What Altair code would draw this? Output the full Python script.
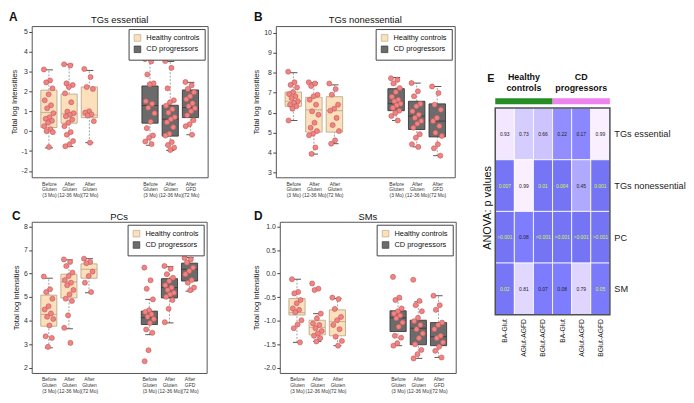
import json
import altair as alt
import pandas as pd

# ---------------- data ----------------
POS = [1, 2, 3, 6, 7, 8]
GROUPS = ["Healthy controls"] * 3 + ["CD progressors"] * 3
COHORTS = ["Healthy controls", "CD progressors"]
X_LABELS = [["Before", "Gluten", "(3 Mo)"], ["After", "Gluten", "(12-36 Mo)"], ["After", "Gluten", "(72 Mo)"],
            ["Before", "Gluten", "(3 Mo)"], ["After", "Gluten", "(12-36 Mo)"], ["After", "GFD", "(72 Mo)"]]

# box stats per group: [whisker low, q1, median, q3, whisker high]
A_BOX = [[-0.84, 0.18, 0.93, 2.06, 3.08], [-0.77, 0.40, 0.87, 1.86, 3.36], [-0.58, 0.68, 0.81, 2.22, 3.05],
         [-0.71, 0.40, 1.29, 2.27, 3.58], [-0.97, -0.25, 0.60, 1.30, 3.50], [-0.18, 0.68, 1.18, 2.07, 2.45]]
A_PTS = [[3.10, 2.55, 2.45, 2.15, 1.85, 1.55, 1.30, 1.15, 0.90, 0.70, 0.62, 0.52, 0.42, 0.25, 0.10, 0.0, -0.05, -0.80],
         [3.36, 3.30, 2.40, 2.32, 2.22, 1.90, 1.45, 0.98, 0.90, 0.82, 0.75, 0.58, 0.42, 0.25, -0.05, -0.18, -0.50, -0.68, -0.76],
         [3.12, 2.72, 2.22, 2.12, 1.00, 0.93, 0.84, 0.78, 0.50, -0.58],
         [3.62, 3.50, 2.85, 2.40, 2.35, 1.50, 1.38, 1.18, 0.90, 0.47, 0.15, -0.22, -0.33, -0.52, -0.65],
         [3.52, 3.18, 2.15, 1.55, 1.45, 1.28, 1.10, 0.93, 0.70, 0.60, 0.45, 0.20, -0.13, -0.22, -0.55, -0.70, -0.83, -0.95],
         [2.47, 2.30, 2.12, 1.95, 1.75, 1.60, 1.40, 1.25, 1.15, 1.00, 0.80, 0.55, 0.35, 0.25, -0.18]]

B_BOX = [[5.61, 6.32, 6.57, 7.03, 8.00], [3.93, 5.03, 6.14, 6.77, 7.50], [4.45, 5.03, 6.10, 6.80, 7.39],
         [5.61, 6.10, 6.45, 7.20, 7.76], [4.29, 5.16, 5.83, 6.57, 7.48], [3.85, 4.79, 5.58, 6.44, 7.31]]
B_PTS = [[8.05, 7.52, 7.39, 7.26, 7.03, 6.93, 6.82, 6.73, 6.57, 6.49, 6.40, 6.32, 6.20, 5.61],
         [7.52, 7.46, 7.33, 6.90, 6.82, 6.65, 6.40, 6.07, 5.90, 5.50, 5.25, 5.08, 4.95, 4.87, 4.26, 3.94],
         [7.46, 7.18, 6.90, 6.40, 6.20, 6.10, 5.74, 5.38, 5.08, 4.62, 4.45],
         [7.72, 7.64, 7.46, 7.23, 7.03, 6.80, 6.65, 6.57, 6.45, 6.37, 6.24, 6.10, 5.99, 5.83, 5.61],
         [7.48, 7.07, 6.82, 6.44, 6.32, 6.07, 5.90, 5.74, 5.58, 5.45, 5.25, 4.92, 4.75, 4.42, 4.29],
         [7.31, 6.98, 6.40, 6.15, 5.74, 5.58, 5.33, 5.00, 4.84, 4.42, 4.22, 3.85]]

C_BOX = [[2.84, 3.76, 4.26, 5.08, 5.80], [3.65, 4.96, 5.64, 5.97, 6.58], [5.18, 5.80, 6.18, 6.41, 6.63],
         [3.40, 3.83, 4.12, 4.40, 4.90], [3.90, 4.96, 5.40, 5.78, 6.29], [5.25, 5.68, 6.18, 6.44, 6.68]]
C_PTS = [[5.87, 5.33, 5.21, 4.93, 4.61, 4.47, 4.30, 4.16, 4.07, 3.79, 3.33, 3.26, 2.88],
         [6.60, 6.49, 6.32, 6.04, 5.89, 5.72, 5.61, 5.50, 5.30, 5.11, 4.93, 4.83, 4.22, 3.69, 3.05],
         [6.63, 6.49, 6.44, 6.08, 5.89, 5.61, 5.21],
         [6.25, 5.71, 5.35, 4.90, 4.44, 4.36, 4.27, 4.16, 4.07, 3.90, 3.62, 3.48, 2.74, 2.27],
         [6.32, 6.20, 5.97, 5.82, 5.68, 5.50, 5.40, 5.30, 5.18, 5.11, 5.01, 4.87, 4.50, 3.93],
         [6.66, 6.60, 6.46, 6.25, 6.11, 5.97, 5.72, 5.61, 5.40, 5.29]]

D_BOX = [[-1.46, -0.88, -0.83, -0.53, -0.12], [-1.44, -1.30, -1.14, -0.99, -0.85], [-1.53, -1.32, -1.02, -0.77, -0.53],
         [-1.53, -1.23, -0.94, -0.79, -0.54], [-1.80, -1.51, -1.16, -0.99, -0.60], [-1.78, -1.53, -1.34, -1.04, -0.47]]
D_PTS = [[-0.12, -0.39, -0.42, -0.56, -0.63, -0.74, -0.77, -0.82, -0.99, -1.08, -1.16, -1.46],
         [-0.21, -0.32, -0.35, -0.85, -0.95, -1.06, -1.09, -1.16, -1.22, -1.27, -1.32, -1.37, -1.44],
         [-0.51, -0.54, -0.75, -0.92, -0.99, -1.09, -1.18, -1.34, -1.43, -1.53],
         [-0.07, -0.51, -0.56, -0.74, -0.80, -0.85, -0.89, -0.95, -1.04, -1.13, -1.32, -1.36, -1.48, -1.53],
         [-0.13, -0.58, -0.67, -0.80, -0.94, -1.01, -1.09, -1.18, -1.27, -1.37, -1.50, -1.62, -1.71, -1.80],
         [-0.47, -0.67, -0.77, -1.04, -1.09, -1.18, -1.32, -1.37, -1.46, -1.55, -1.64, -1.78]]

# heatmap (panel E)
COMPARISONS = ["BA-Glut", "AGlut-AGFD", "BGlut-AGFD", "BA-Glut", "AGlut-AGFD", "BGlut-AGFD"]
COHORT_OF_COL = ["Healthy controls"] * 3 + ["CD progressors"] * 3
HEADERS = ["Healthy\ncontrols", "CD\nprogressors"]
ROWS = ["TGs essential", "TGs nonessential", "PC", "SM"]
P_VALUES = [[0.93, 0.73, 0.66, 0.22, 0.17, 0.99],
            [0.007, 0.99, 0.01, 0.004, 0.45, 0.001],
            [0.0005, 0.08, 0.0005, 0.0005, 0.0005, 0.0005],
            [0.02, 0.81, 0.07, 0.08, 0.79, 0.05]]
P_LABELS = [["0.93", "0.73", "0.66", "0.22", "0.17", "0.99"],
            ["0.007", "0.99", "0.01", "0.004", "0.45", "0.001"],
            [">0.001", "0.08", ">0.001", ">0.001", ">0.001", ">0.001"],
            ["0.02", "0.81", "0.07", "0.08", "0.79", "0.05"]]

# ---------------- style ----------------
FONT = "Liberation Sans"
HC_FILL, CD_FILL = "#FCE0BC", "#6B6B6B"
HC_EDGE, CD_EDGE = "#BBA98C", "#3A3A3A"

X_EXPR = " : ".join(f"datum.value == {p} ? {json.dumps(l)}" for p, l in zip(POS, X_LABELS)) + " : ''"


def y_expr(fmt):
    return f"replace(format(datum.value, '{fmt}'), '\u2212', '-')"


def panel(title, letter, box, pts, ydom, yticks, yfmt, w, h, ldx, ldy, tdy):
    bdf = pd.DataFrame({"pos": POS, "grp": GROUPS,
                        "lo": [b[0] for b in box], "q1": [b[1] for b in box], "med": [b[2] for b in box],
                        "q3": [b[3] for b in box], "hi": [b[4] for b in box]})
    rows = []
    for p, g, vals in zip(POS, GROUPS, pts):
        for i, v in enumerate(vals):
            rows.append({"pos": p, "grp": g, "val": v, "i": i})
    pdf = pd.DataFrame(rows)

    xs = alt.Scale(domain=[0.15, 8.85], nice=False, zero=False)
    ys = alt.Scale(domain=ydom, nice=False, zero=False)
    xax = alt.Axis(values=POS, labelExpr=X_EXPR, ticks=False, domain=False, grid=False, title=None,
                   labelFontSize=5, labelLineHeight=5.8, labelPadding=4, labelFlush=False,
                   labelOverlap=False, labelColor="#333", labelBaseline="top", labelAngle=0)
    yax = alt.Axis(values=yticks, labelExpr=y_expr(yfmt), title="Total log Intensities", grid=False,
                   domain=False, tickSize=3, tickColor="#444", labelFontSize=7, titleFontSize=7.7,
                   titlePadding=3, labelPadding=1.5, titleFontWeight="normal", labelColor="#333",
                   titleColor="#222", labelFlush=False)

    def X(f):
        return alt.X(f, scale=xs, axis=xax)

    def Y(f):
        return alt.Y(f, scale=ys, axis=yax)

    fill_scale = alt.Scale(domain=COHORTS, range=[HC_FILL, CD_FILL])
    edge_scale = alt.Scale(domain=COHORTS, range=[HC_EDGE, CD_EDGE])

    base = alt.Chart(bdf).transform_calculate(
        xl="datum.pos - 0.4", xr="datum.pos + 0.4", cl="datum.pos - 0.2", cr="datum.pos + 0.2")
    wlo = base.mark_rule(strokeDash=[2, 1.5], strokeWidth=0.8, color="#8a8a8a").encode(
        x=X("pos:Q"), y=Y("lo:Q"), y2="q1:Q")
    whi = base.mark_rule(strokeDash=[2, 1.5], strokeWidth=0.8, color="#8a8a8a").encode(
        x=X("pos:Q"), y=Y("q3:Q"), y2="hi:Q")
    cap_lo = base.mark_rule(strokeWidth=0.9, color="#444").encode(x=X("cl:Q"), x2="cr:Q", y=Y("lo:Q"))
    cap_hi = base.mark_rule(strokeWidth=0.9, color="#444").encode(x=X("cl:Q"), x2="cr:Q", y=Y("hi:Q"))
    boxes = base.mark_rect(strokeWidth=0.9).encode(
        x=X("xl:Q"), x2="xr:Q", y=Y("q1:Q"), y2="q3:Q",
        fill=alt.Fill("grp:N", scale=fill_scale,
                      legend=alt.Legend(title=None, orient="top-right", offset=3, padding=5,
                                        strokeColor="#444", fillColor="white", symbolType="square",
                                        symbolSize=45, symbolStrokeColor="#222", symbolStrokeWidth=0.7,
                                        labelFontSize=7.5, labelColor="#111", rowPadding=1.5,
                                        labelOffset=5, labelFont=FONT)),
        stroke=alt.Stroke("grp:N", scale=edge_scale, legend=None))
    meds = base.mark_rule(strokeWidth=0.9).encode(
        x=X("xl:Q"), x2="xr:Q", y=Y("med:Q"), stroke=alt.Stroke("grp:N", scale=edge_scale, legend=None))
    dots = alt.Chart(pdf).transform_calculate(
        jx="datum.pos + ((datum.i * 0.618034) % 1 - 0.5) * 0.5"
    ).mark_circle(size=26, opacity=1, fill="#EE8585", stroke="#C95454", strokeWidth=0.6).encode(
        x=X("jx:Q"), y=Y("val:Q"))
    lab = alt.Chart(pd.DataFrame({"t": [letter]})).mark_text(
        fontSize=12, fontWeight="bold", align="left", baseline="alphabetic", color="#111", font=FONT
    ).encode(x=alt.value(ldx), y=alt.value(ldy), text="t:N")
    ttl = alt.Chart(pd.DataFrame({"t": [title]})).mark_text(
        fontSize=9.5, align="center", baseline="alphabetic", color="#111", font=FONT
    ).encode(x=alt.value(w / 2), y=alt.value(tdy), text="t:N")

    return alt.layer(wlo, whi, cap_lo, cap_hi, boxes, meds, dots, lab, ttl).properties(width=w, height=h)


A = panel("TGs essential", "A", A_BOX, A_PTS, [-2.32, 5.28], list(range(-2, 6)), "d", 178, 153, -23, -5, -3)
B = panel("TGs nonessential", "B", B_BOX, B_PTS, [2.77, 10.33], list(range(3, 11)), "d", 181, 153, -22, -5, -3)
C = panel("PCs", "C", C_BOX, C_PTS, [1.77, 8.2], list(range(2, 9)), "d", 177, 153, -20, -2, -2)
D = panel("SMs", "D", D_BOX, D_PTS, [-2.11, 1.1], [-2.0, -1.5, -1.0, -0.5, 0.0, 0.5, 1.0], ".1f", 178, 153, -26, -2, -2)

# ---------------- panel E ----------------
E_W, E_H = 116, 292
ROW_PX = 52.25
erows = []
for r, rname in enumerate(ROWS):
    for c in range(len(COMPARISONS)):
        r0 = len(ROWS) - 1 - r
        erows.append({"c0": c, "c1": c + 1, "cx": c + 0.5, "r0": r0, "r1": r0 + 1, "cy": r0 + 0.5,
                      "p": P_VALUES[r][c], "lab": P_LABELS[r][c], "row": rname})
edf = pd.DataFrame(erows)

ncol = len(COMPARISONS)
exs = alt.Scale(domain=[0, ncol], nice=False, zero=False)
eys = alt.Scale(domain=[0, E_H / ROW_PX], nice=False, zero=False)
ex_expr = " : ".join(f"datum.value == {c + 0.5} ? '{n}'" for c, n in enumerate(COMPARISONS)) + " : ''"
ey_expr = " : ".join(f"datum.value == {len(ROWS) - 1 - r + 0.5} ? '{n}'" for r, n in enumerate(ROWS)) + " : ''"
exax = alt.Axis(values=[c + 0.5 for c in range(ncol)], labelExpr=ex_expr, labelAngle=-90, ticks=False,
                domain=False, grid=False, title=None, labelFontSize=6.8, labelPadding=4, labelColor="#222",
                labelFlush=False, labelOverlap=False)
eyax = alt.Axis(orient="right", values=[r + 0.5 for r in range(len(ROWS))], labelExpr=ey_expr, ticks=False,
                domain=False, grid=False, title=None, labelFontSize=9.3, labelPadding=4, labelColor="#222",
                labelFlush=False, labelOverlap=False)


def EX(f):
    return alt.X(f, scale=exs, axis=exax)


def EY(f):
    return alt.Y(f, scale=eys, axis=eyax)


cells = alt.Chart(edf).mark_rect(stroke="white", strokeWidth=0.8).encode(
    x=EX("c0:Q"), x2="c1:Q", y=EY("r0:Q"), y2="r1:Q",
    fill=alt.Fill("p:Q", scale=alt.Scale(domain=[0, 1], range=["#7474F4", "#FFFFFF"]), legend=None))
texts = alt.Chart(edf).mark_text(fontSize=5, font=FONT).encode(
    x=EX("cx:Q"), y=EY("cy:Q"), text="lab:N",
    color=alt.condition("datum.p <= 0.05", alt.value("#D8F53C"), alt.value("#222")))
border = alt.Chart(edf).transform_aggregate(
    x0="min(c0)", x1="max(c1)", y0="min(r0)", y1="max(r1)"
).mark_rect(fill="white", fillOpacity=0, stroke="#505050", strokeWidth=1.5).encode(
    x=EX("x0:Q"), x2="x1:Q", y=EY("y0:Q"), y2="y1:Q")

cdf = pd.DataFrame({"cohort": COHORTS, "header": HEADERS,
                    "start": [COHORT_OF_COL.index(k) for k in COHORTS],
                    "end": [len(COHORT_OF_COL) - COHORT_OF_COL[::-1].index(k) for k in COHORTS]})
cbar = alt.Chart(cdf).mark_rect().encode(
    x=EX("start:Q"), x2="end:Q", y=alt.value(73), y2=alt.value(79),
    color=alt.Color("cohort:N", scale=alt.Scale(domain=COHORTS, range=["#268C26", "#EE82EE"]), legend=None))
heads = alt.Chart(cdf).transform_calculate(mid="(datum.start + datum.end) / 2").mark_text(
    lineBreak="\n", fontWeight="bold", fontSize=9, align="center", baseline="alphabetic", lineHeight=11,
    color="#111", font=FONT
).encode(x=EX("mid:Q"), y=alt.value(55), text="header:N")
eletter = alt.Chart(pd.DataFrame({"t": ["E"]})).mark_text(
    fontSize=11, fontWeight="bold", align="left", baseline="alphabetic", color="#111", font=FONT
).encode(x=alt.value(-8), y=alt.value(57), text="t:N")
anova = alt.Chart(pd.DataFrame({"t": ["ANOVA: p values"]})).mark_text(
    fontSize=11, angle=270, align="center", baseline="middle", color="#111", font=FONT
).encode(x=alt.value(-7), y=alt.value(184), text="t:N")

E = alt.layer(cells, texts, border, cbar, heads, eletter, anova).properties(
    width=E_W, height=E_H, view=alt.ViewBackground(stroke="transparent"))

RES = dict(fill="independent", stroke="independent", color="independent")
row1 = alt.hconcat(A, B, spacing=44).resolve_scale(**RES)
row2 = alt.hconcat(C, D, spacing=44).resolve_scale(**RES)
left = alt.vconcat(row1, row2, spacing=10).resolve_scale(**RES)
chart = alt.hconcat(left, E, spacing=25).resolve_scale(**RES).properties(
    padding=0, background="white"
).configure(font=FONT).configure_view(stroke="#555", strokeWidth=1)

chart.save("out.html", embed_options={"renderer": "svg", "actions": False})
